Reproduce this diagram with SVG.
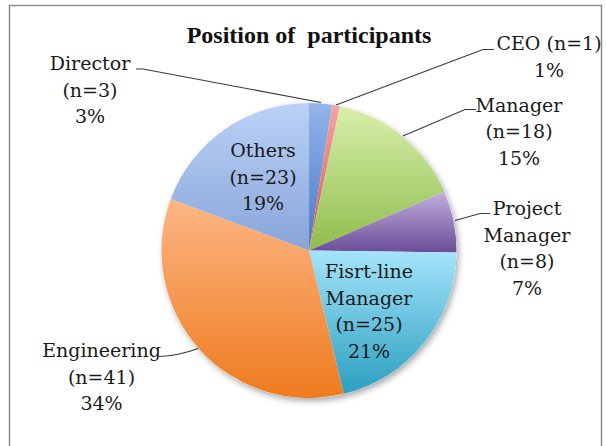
<svg xmlns="http://www.w3.org/2000/svg" width="606" height="446" viewBox="0 0 606 446">
<style>
.lbl{font-family:"DejaVu Serif","Liberation Serif",serif;font-size:19px;fill:#1a1a1a;text-anchor:middle}
.ttl{font-family:"Liberation Serif","Times New Roman",serif;font-size:24px;font-weight:bold;fill:#111;text-anchor:middle;white-space:pre}
.lead{fill:none;stroke:#3a3a3a;stroke-width:1.1}
</style>
<defs>
<linearGradient id="gDir" x1="0" y1="0" x2="0" y2="1"><stop offset="0" stop-color="#93b4ec"/><stop offset="1" stop-color="#4a79c5"/></linearGradient>
<linearGradient id="gCeo" x1="0" y1="0" x2="0" y2="1"><stop offset="0" stop-color="#f4a5a5"/><stop offset="1" stop-color="#d9534f"/></linearGradient>
<linearGradient id="gMgr" x1="0" y1="0" x2="0" y2="1"><stop offset="0" stop-color="#d8efab"/><stop offset="1" stop-color="#8fbd4d"/></linearGradient>
<linearGradient id="gPm" x1="0" y1="0" x2="0" y2="1"><stop offset="0" stop-color="#c1afdd"/><stop offset="1" stop-color="#6b4c98"/></linearGradient>
<linearGradient id="gFl" x1="0" y1="0" x2="0" y2="1"><stop offset="0" stop-color="#a4e4fb"/><stop offset="1" stop-color="#2b9fc1"/></linearGradient>
<linearGradient id="gEng" x1="0" y1="0" x2="0" y2="1"><stop offset="0" stop-color="#fcb685"/><stop offset="1" stop-color="#ee7b1f"/></linearGradient>
<linearGradient id="gOth" x1="0" y1="0" x2="0" y2="1"><stop offset="0" stop-color="#bad2f7"/><stop offset="1" stop-color="#88a5d9"/></linearGradient>
<filter id="shadow" x="-10%" y="-10%" width="130%" height="130%"><feDropShadow dx="2" dy="3" stdDeviation="3" flood-color="#000" flood-opacity="0.35"/></filter>
</defs>
<rect x="0" y="0" width="606" height="446" fill="#ffffff"/>
<rect x="9.5" y="5.5" width="592" height="460" fill="none" stroke="#8c8c8c" stroke-width="1.5"/>
<text class="ttl" x="309" y="43">Position of  participants</text>
<circle cx="309" cy="250.5" r="147.5" fill="#fff" filter="url(#shadow)"/>
<g id="director"><path d="M309 250.5 L309 103 A147.5 147.5 0 0 1 332.27 104.85 Z" fill="url(#gDir)"/>
<text class="lbl" x="90" y="70">Director</text><text class="lbl" x="90" y="96.5">(n=3)</text><text class="lbl" x="90" y="123">3%</text></g>
<g id="ceo"><path d="M309 250.5 L332.27 104.85 A147.5 147.5 0 0 1 339.92 106.28 Z" fill="url(#gCeo)"/>
<text class="lbl" x="549" y="50">CEO (n=1)</text><text class="lbl" x="549" y="76.5">1%</text></g>
<g id="manager"><path d="M309 250.5 L339.92 106.28 A147.5 147.5 0 0 1 444.32 191.81 Z" fill="url(#gMgr)"/>
<text class="lbl" x="519" y="111.5">Manager</text><text class="lbl" x="519" y="138">(n=18)</text><text class="lbl" x="519" y="164.5">15%</text></g>
<g id="project-manager"><path d="M309 250.5 L444.32 191.81 A147.5 147.5 0 0 1 456.49 252.45 Z" fill="url(#gPm)"/>
<text class="lbl" x="527" y="215">Project</text><text class="lbl" x="527" y="241.5">Manager</text><text class="lbl" x="527" y="268">(n=8)</text><text class="lbl" x="527" y="294.5">7%</text></g>
<g id="first-line"><path d="M309 250.5 L456.49 252.45 A147.5 147.5 0 0 1 343.71 393.86 Z" fill="url(#gFl)"/>
<text class="lbl" x="369" y="278">Fisrt-line</text><text class="lbl" x="369" y="304.5">Manager</text><text class="lbl" x="369" y="331">(n=25)</text><text class="lbl" x="369" y="357.5">21%</text></g>
<g id="engineering"><path d="M309 250.5 L343.71 393.86 A147.5 147.5 0 0 1 170.77 199.04 Z" fill="url(#gEng)"/>
<text class="lbl" x="101.5" y="357">Engineering</text><text class="lbl" x="101.5" y="383.5">(n=41)</text><text class="lbl" x="101.5" y="410">34%</text></g>
<g id="others"><path d="M309 250.5 L170.77 199.04 A147.5 147.5 0 0 1 309 103 Z" fill="url(#gOth)"/>
<text class="lbl" x="263" y="157">Others</text><text class="lbl" x="263" y="183.5">(n=23)</text><text class="lbl" x="263" y="210">19%</text></g>
<g id="connectors">
<path class="lead" d="M136 69 L143 69 L321 102.5"/>
<path class="lead" d="M494 49.5 L483 49.5 L336 105"/>
<path class="lead" d="M476 109.5 L465 109.5 L403 136"/>
<path class="lead" d="M490 213.5 L480 213.5 L455 220.5"/>
<path class="lead" d="M159 356.5 Q178 356 198 348.5"/>
</g>
</svg>
